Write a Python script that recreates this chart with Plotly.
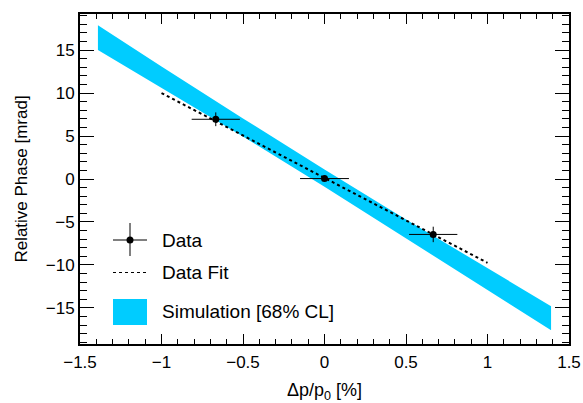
import plotly.graph_objects as go

# ---- data ----
data_x = [-0.667, 0.0, 0.667]
data_y = [6.95, 0.05, -6.45]
data_xerr = [0.148, 0.15, 0.148]
data_yerr = [0.8, 0.3, 0.9]

fit_x = [-1.0, 1.0]
fit_y = [10.0, -9.75]

band_x = [-1.39, -1.0, -0.5, 0.0, 0.5, 1.0, 1.39]
band_upper = [17.9, 13.1, 7.05, 1.1, -4.7, -10.4, -14.8]
band_lower = [15.0, 10.6, 4.95, -0.9, -6.85, -12.9, -17.6]

BAND_COLOR = "#00CCFF"
FONT = "Liberation Sans, Arial, Helvetica, sans-serif"

fig = go.Figure()

# Simulation band (polygon)
fig.add_trace(go.Scatter(
    x=band_x + band_x[::-1],
    y=band_upper + band_lower[::-1],
    fill="toself", fillcolor=BAND_COLOR, mode="lines",
    line=dict(width=0, color=BAND_COLOR), hoverinfo="skip", showlegend=False,
))

# Data fit
fig.add_trace(go.Scatter(
    x=fit_x, y=fit_y, mode="lines",
    line=dict(color="black", width=2, dash="3px,3px"), showlegend=False,
))

# Data points
fig.add_trace(go.Scatter(
    x=data_x, y=data_y, mode="markers",
    marker=dict(color="black", size=7),
    error_x=dict(type="data", array=data_xerr, color="black", thickness=1, width=0),
    error_y=dict(type="data", array=data_yerr, color="black", thickness=1, width=0),
    showlegend=False,
))

# ---- manual legend (paper coords) ----
L, R, T, B = 80, 569, 14, 344
def px(x):
    return (x - L) / (R - L)
def py(y):
    return (B - y) / (B - T)

shapes = []
# Data cross
shapes.append(dict(type="line", xref="paper", yref="paper", x0=px(113), x1=px(147), y0=py(240), y1=py(240), line=dict(color="black", width=1)))
shapes.append(dict(type="line", xref="paper", yref="paper", x0=px(130), x1=px(130), y0=py(223), y1=py(256), line=dict(color="black", width=1)))
shapes.append(dict(type="circle", xref="paper", yref="paper", x0=px(126.5), x1=px(133.5), y0=py(236.5), y1=py(243.5), fillcolor="black", line=dict(color="black", width=0)))
# Fit dashed
shapes.append(dict(type="line", xref="paper", yref="paper", x0=px(113), x1=px(147), y0=py(272.5), y1=py(272.5), line=dict(color="black", width=1, dash="3px,3px")))
# Simulation box
shapes.append(dict(type="rect", xref="paper", yref="paper", x0=px(113), x1=px(147), y0=py(299), y1=py(325), fillcolor=BAND_COLOR, line=dict(width=0)))

annotations = []
for text, yy in [("Data", 240), ("Data Fit", 272), ("Simulation [68% CL]", 311)]:
    annotations.append(dict(text=text, xref="paper", yref="paper", x=px(160), y=py(yy),
                            xanchor="left", yanchor="middle", showarrow=False,
                            font=dict(family=FONT, size=19, color="black")))

fig.update_layout(
    width=583, height=403,
    margin=dict(l=80, r=14, t=14, b=59, autoexpand=False),
    plot_bgcolor="white", paper_bgcolor="white",
    font=dict(family=FONT, size=16, color="black"),
    shapes=shapes, annotations=annotations,
    showlegend=False,
)

fig.update_xaxes(
    range=[-1.5, 1.5], tickvals=[-1.5, -1, -0.5, 0, 0.5, 1, 1.5],
    ticktext=["\u22121.5", "\u22121", "\u22120.5", "0", "0.5", "1", "1.5"],
    ticks="inside", ticklen=10, tickwidth=1, tickcolor="black",
    minor=dict(dtick=0.1, tick0=0, ticks="inside", ticklen=5, tickwidth=1, tickcolor="black"),
    showline=True, linewidth=2, linecolor="black", mirror="allticks",
    showgrid=False, zeroline=False, automargin=False,
    tickfont=dict(size=17), ticklabelstandoff=2,
    title=dict(text="\u0394p/p<sub>0</sub> [%]", font=dict(size=18), standoff=16),
)
fig.update_yaxes(
    range=[-19.2, 19.2], tickvals=[-15, -10, -5, 0, 5, 10, 15],
    ticktext=["\u221215", "\u221210", "\u22125", "0", "5", "10", "15"],
    ticks="inside", ticklen=14, tickwidth=1, tickcolor="black",
    minor=dict(dtick=1, tick0=0, ticks="inside", ticklen=7, tickwidth=1, tickcolor="black"),
    showline=True, linewidth=2, linecolor="black", mirror="allticks",
    showgrid=False, zeroline=False, automargin=False,
    tickfont=dict(size=17), ticklabelstandoff=0,
    title=dict(text="Relative Phase [mrad]", font=dict(size=17), standoff=14),
)

fig.write_html("out.html")
